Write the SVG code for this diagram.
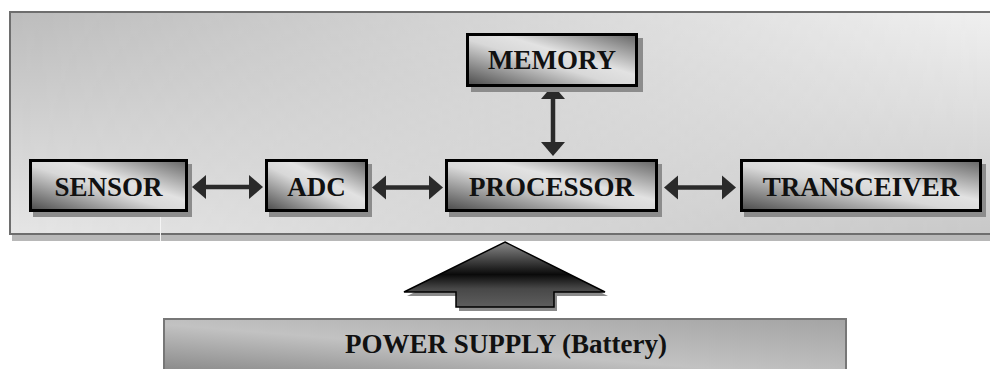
<svg xmlns="http://www.w3.org/2000/svg" width="990" height="369" viewBox="0 0 990 369">
  <style>
    .lbl { font-family: "Liberation Serif", "Times New Roman", serif; font-weight: bold; font-size: 27px; fill: #111; text-anchor: middle; }
    .box { fill: url(#boxGrad); stroke: #000; stroke-width: 3; }
    .shadow { fill: #8c8c8c; }
    .conn { stroke: #2a2a2a; stroke-width: 4.5; fill: none; marker-start: url(#head); marker-end: url(#head); }
  </style>
  <defs>
    <linearGradient id="boxGrad" x1="0" y1="1" x2="1" y2="0">
      <stop offset="0" stop-color="#4a4a4a"/>
      <stop offset="0.45" stop-color="#d8d8d8"/>
      <stop offset="0.6" stop-color="#e2e2e2"/>
      <stop offset="1" stop-color="#646464"/>
    </linearGradient>
    <linearGradient id="bgLeft" x1="0" y1="0" x2="0" y2="1">
      <stop offset="0" stop-color="#bcbcbc"/>
      <stop offset="1" stop-color="#e6e6e6"/>
    </linearGradient>
    <linearGradient id="bgRight" x1="0" y1="0" x2="0" y2="1">
      <stop offset="0" stop-color="#f0f0f0"/>
      <stop offset="1" stop-color="#c8c8c8"/>
    </linearGradient>
    <linearGradient id="ramp" x1="0" y1="0" x2="1" y2="0">
      <stop offset="0" stop-color="#fff" stop-opacity="0"/>
      <stop offset="1" stop-color="#fff" stop-opacity="1"/>
    </linearGradient>
    <mask id="rampMask" maskUnits="userSpaceOnUse" x="0" y="0" width="990" height="369">
      <rect x="9" y="11" width="981" height="223" fill="url(#ramp)"/>
    </mask>
    <linearGradient id="bigArrowGrad" x1="0" y1="0" x2="0" y2="1">
      <stop offset="0" stop-color="#8a8a8a"/>
      <stop offset="0.5" stop-color="#0a0a0a"/>
      <stop offset="0.72" stop-color="#484848"/>
      <stop offset="1" stop-color="#5e5e5e"/>
    </linearGradient>
    <linearGradient id="powerGrad" x1="0" y1="1" x2="1" y2="0">
      <stop offset="0" stop-color="#868686"/>
      <stop offset="0.45" stop-color="#c2c2c2"/>
      <stop offset="1" stop-color="#a4a4a4"/>
    </linearGradient>
    <marker id="head" markerUnits="userSpaceOnUse" markerWidth="16" markerHeight="26" viewBox="0 -13 16 26" refX="0" refY="0" orient="auto-start-reverse">
      <path d="M0,-12 L14,0 L0,12 Z" fill="#2a2a2a"/>
    </marker>
  </defs>

  <!-- outer frame -->
  <g id="frame">
    <rect x="12" y="16" width="985" height="225" fill="#b8b8b8"/>
    <rect x="9" y="11" width="990" height="223" fill="url(#bgLeft)"/>
    <rect x="9" y="11" width="990" height="223" fill="url(#bgRight)" mask="url(#rampMask)"/>
    <rect x="10" y="12" width="990" height="222" fill="none" stroke="#6e6e6e" stroke-width="2"/>
    <line x1="160.5" y1="213" x2="160.5" y2="241" stroke="#f4f4f4" stroke-width="1"/>
  </g>

  <!-- connectors -->
  <g id="connectors">
    <path class="conn" d="M206,187 H249"/>
    <path class="conn" d="M386,187.5 H429"/>
    <path class="conn" d="M678,187.5 H722"/>
    <path class="conn" d="M553,99 V142"/>
  </g>

  <g id="memory">
    <rect class="shadow" x="471" y="38" width="172" height="54"/>
    <rect class="box" x="467.5" y="34.5" width="169" height="51"/>
    <text class="lbl" x="552" y="69">MEMORY</text>
  </g>

  <g id="sensor">
    <rect class="shadow" x="33" y="164" width="159" height="53"/>
    <rect class="box" x="30.5" y="160.5" width="156" height="50"/>
    <text class="lbl" x="108.5" y="195.5">SENSOR</text>
  </g>

  <g id="adc">
    <rect class="shadow" x="269" y="164" width="103" height="53"/>
    <rect class="box" x="266.5" y="160.5" width="100" height="50"/>
    <text class="lbl" x="316.5" y="195.5">ADC</text>
  </g>

  <g id="processor">
    <rect class="shadow" x="449" y="164" width="213" height="53"/>
    <rect class="box" x="446.5" y="160.5" width="210" height="50"/>
    <text class="lbl" x="551.5" y="195.5">PROCESSOR</text>
  </g>

  <g id="transceiver">
    <rect class="shadow" x="744" y="164" width="242" height="53"/>
    <rect class="box" x="741.5" y="160.5" width="239" height="50"/>
    <text class="lbl" x="861" y="195.5">TRANSCEIVER</text>
  </g>

  <g id="power-arrow">
    <polygon points="508,246 608,296 557,296 557,311 459,311 459,296 407,296" fill="#8a8a8a"/>
    <polygon points="505,242 605,292 554,292 554,307 456,307 456,292 404,292" fill="url(#bigArrowGrad)" stroke="#000" stroke-width="1.5" stroke-linejoin="miter"/>
  </g>

  <g id="power-supply">
    <rect x="164" y="319" width="682" height="55" fill="url(#powerGrad)" stroke="#777" stroke-width="2"/>
    <text class="lbl" x="506" y="352.5">POWER SUPPLY (Battery)</text>
  </g>
</svg>
